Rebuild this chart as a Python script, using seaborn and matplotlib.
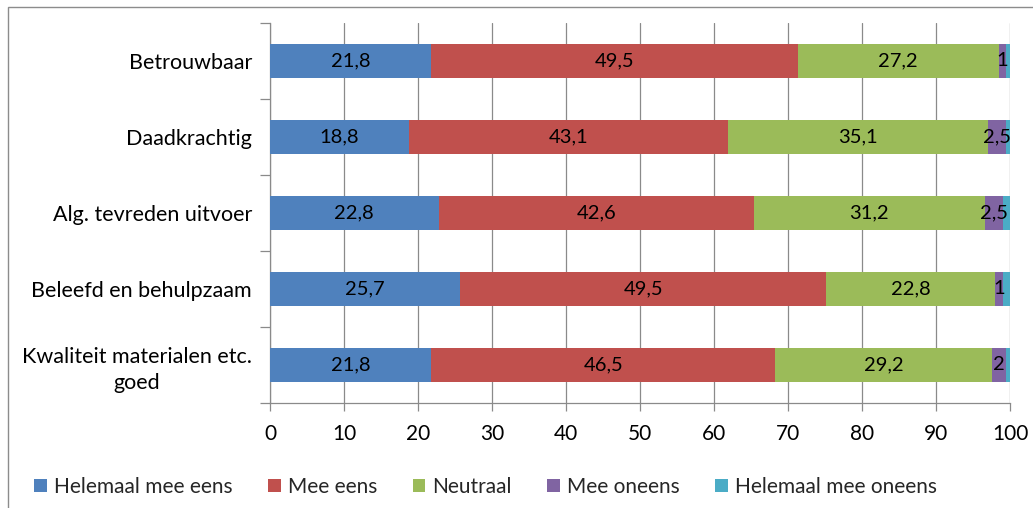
import numpy as np
import pandas as pd
import matplotlib
matplotlib.use("Agg")
import matplotlib.pyplot as plt
from matplotlib.patches import Patch, Rectangle
import seaborn as sns

# Survey results (percentages per statement)
categories = [
    "Betrouwbaar",
    "Daadkrachtig",
    "Alg. tevreden uitvoer",
    "Beleefd en behulpzaam",
    "Kwaliteit materialen etc.\ngoed",
]
helemaal_mee_eens = [21.8, 18.8, 22.8, 25.7, 21.8]
mee_eens = [49.5, 43.1, 42.6, 49.5, 46.5]
neutraal = [27.2, 35.1, 31.2, 22.8, 29.2]
mee_oneens = [1.0, 2.5, 2.5, 1.0, 2.0]
helemaal_mee_oneens = [0.5, 0.5, 0.9, 1.0, 0.5]

series_names = ["Helemaal mee eens", "Mee eens", "Neutraal", "Mee oneens", "Helemaal mee oneens"]
series_values = [helemaal_mee_eens, mee_eens, neutraal, mee_oneens, helemaal_mee_oneens]
series_colors = ["#4F81BD", "#C0504D", "#9BBB59", "#8064A2", "#4BACC6"]
labelled_series = 4  # the last series carries no value labels

x_ticks = list(range(0, 101, 10))

sns.set_theme(style="white")
plt.rcParams["font.family"] = ["Lato", "DejaVu Sans"]
plt.rcParams["font.size"] = 15

grid_gray = "#8A8A8A"

fig = plt.figure(figsize=(10.33, 5.08), dpi=100)
ax = fig.add_axes([270 / 1033, 105 / 508, 740 / 1033, 380 / 508])

# Stacked bars: draw cumulative totals from the outermost series inward
vals = np.array(series_values)
cum = np.cumsum(vals, axis=0)
for i in reversed(range(len(series_names))):
    df = pd.DataFrame({"category": categories, "value": cum[i]})
    sns.barplot(
        data=df, x="value", y="category", order=categories, orient="h",
        color=series_colors[i], saturation=1, width=0.44, errorbar=None,
        linewidth=0, ax=ax, zorder=3,
    )

def fmt(v):
    return f"{v:g}".replace(".", ",")

starts = cum - vals
for i in range(labelled_series):
    for j in range(len(categories)):
        ax.text(starts[i, j] + vals[i, j] / 2, j, fmt(vals[i, j]),
                ha="center", va="center", color="black", fontsize=14.5, zorder=5)

ax.set_xlim(0, 100)
ax.set_ylim(len(categories) - 0.5, -0.5)
ax.set_xticks(x_ticks)
ax.set_xticklabels([str(t) for t in x_ticks])
ax.set_xlabel("")
ax.set_ylabel("")

ax.xaxis.grid(True, color=grid_gray, linewidth=0.9, zorder=0)
ax.yaxis.grid(False)
ax.set_axisbelow(True)

for side in ["top", "right"]:
    ax.spines[side].set_visible(False)
for side in ["left", "bottom"]:
    ax.spines[side].set_visible(True)
    ax.spines[side].set_color(grid_gray)
    ax.spines[side].set_linewidth(0.9)

ax.set_yticks(np.arange(-0.5, len(categories), 1), minor=True)
ax.tick_params(axis="y", which="major", length=0, pad=13, labelsize=15.5, labelcolor="black")
ax.tick_params(axis="y", which="minor", left=True, length=7, width=0.9,
               color=grid_gray, direction="out")
ax.tick_params(axis="x", which="major", bottom=True, length=6, width=0.9,
               color=grid_gray, direction="out", pad=9, labelsize=15, labelcolor="black")
for lbl in ax.get_yticklabels():
    lbl.set_multialignment("center")
    lbl.set_linespacing(1.4)

handles = [Patch(facecolor=c, edgecolor="none") for c in series_colors]
fig.legend(handles, series_names, loc="lower left", bbox_to_anchor=(26 / 1033, 3 / 508),
           ncol=5, frameon=False, fontsize=15, handlelength=0.6, handleheight=0.6,
           handletextpad=0.35, columnspacing=1.7, borderaxespad=0)

# Outer chart border
fig.add_artist(Rectangle((8 / 1033, -0.05), 1.0, 1.05 - 7 / 508, transform=fig.transFigure,
                         fill=False, edgecolor="#8C8C8C", linewidth=1))

fig.savefig("out.png", dpi=100)
